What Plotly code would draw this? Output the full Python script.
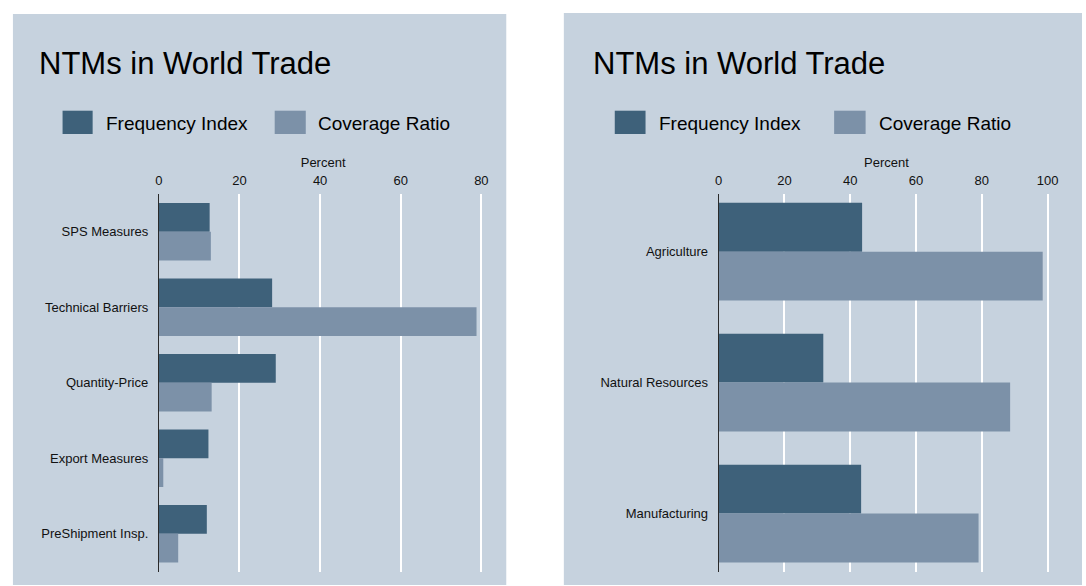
import plotly.graph_objects as go

W, H = 1086, 586

# ---- data ----
title_text = "NTMs in World Trade"
series_names = ["Frequency Index", "Coverage Ratio"]

left_categories = ["SPS Measures", "Technical Barriers", "Quantity-Price",
                   "Export Measures", "PreShipment Insp."]
left_frequency = [12.6, 28.1, 29.0, 12.3, 11.9]
left_coverage = [12.9, 78.8, 13.1, 1.1, 4.8]

right_categories = ["Agriculture", "Natural Resources", "Manufacturing"]
right_frequency = [43.6, 31.8, 43.3]
right_coverage = [98.5, 88.6, 79.0]

left_ticks = [0, 20, 40, 60, 80]
right_ticks = [0, 20, 40, 60, 80, 100]

# ---- style ----
BG = "#c6d2de"
DARK = "#3e617a"
LIGHT = "#7c91a8"
FONT = "Liberation Sans, Arial, sans-serif"


def px(x):
    return x / W


def py(y):
    return 1 - y / H


fig = go.Figure()

lw = 0.38
fig.add_trace(go.Bar(y=list(range(len(left_categories))), x=left_frequency, orientation="h",
                     marker=dict(color=DARK, line=dict(width=0)), width=lw, offset=-lw,
                     name=series_names[0], xaxis="x", yaxis="y", showlegend=False))
fig.add_trace(go.Bar(y=list(range(len(left_categories))), x=left_coverage, orientation="h",
                     marker=dict(color=LIGHT, line=dict(width=0)), width=lw, offset=0,
                     name=series_names[1], xaxis="x", yaxis="y", showlegend=False))

rw = 0.3725
fig.add_trace(go.Bar(y=list(range(len(right_categories))), x=right_frequency, orientation="h",
                     marker=dict(color=DARK, line=dict(width=0)), width=rw, offset=-rw,
                     name=series_names[0], xaxis="x2", yaxis="y2", showlegend=False))
fig.add_trace(go.Bar(y=list(range(len(right_categories))), x=right_coverage, orientation="h",
                     marker=dict(color=LIGHT, line=dict(width=0)), width=rw, offset=0,
                     name=series_names[1], xaxis="x2", yaxis="y2", showlegend=False))

ydom = [py(571.5), py(194)]

xaxis_common = dict(side="top", showgrid=True, gridcolor="white", gridwidth=1.5,
                    zeroline=False, showline=False, ticks="outside", tickcolor=BG,
                    ticklen=3, tickfont=dict(size=13, color="#111", family=FONT),
                    title=dict(text="Percent", font=dict(size=13, color="#111", family=FONT),
                               standoff=2), fixedrange=True)
yaxis_common = dict(showgrid=False, zeroline=False, showline=True, linecolor="#2a2a2a",
                    linewidth=1, ticks="", tickfont=dict(size=13, color="#111", family=FONT),
                    ticklabelstandoff=7, fixedrange=True)

fig.update_layout(
    width=W, height=H, margin=dict(l=0, r=0, t=0, b=0),
    paper_bgcolor="white", plot_bgcolor="rgba(0,0,0,0)",
    barmode="overlay", showlegend=False,
    font=dict(family=FONT),
    xaxis=dict(domain=[px(156), px(487)], range=[0, 81.5], tickvals=left_ticks,
               anchor="y", **xaxis_common),
    yaxis=dict(domain=ydom, range=[len(left_categories) - 0.5, -0.5],
               tickvals=list(range(len(left_categories))), ticktext=left_categories,
               anchor="x", **yaxis_common),
    xaxis2=dict(domain=[px(720), px(1058)], range=[0, 102], tickvals=right_ticks,
                anchor="y2", **xaxis_common),
    yaxis2=dict(domain=ydom, range=[2.442, -0.44],
                tickvals=list(range(len(right_categories))), ticktext=right_categories,
                anchor="x2", **yaxis_common),
)

shapes = []
shapes.append(dict(type="rect", xref="paper", yref="paper", x0=px(9), x1=px(506),
                   y0=py(585), y1=py(14), fillcolor=BG, line=dict(width=0), layer="below"))
shapes.append(dict(type="rect", xref="paper", yref="paper", x0=px(564), x1=px(1086),
                   y0=py(585), y1=py(13), fillcolor=BG, line=dict(width=0), layer="below"))

annotations = []
panels = [
    dict(title_x=33, keys=[(59, 89.3, 100.5), (272.7, 304, 314.5)]),
    dict(title_x=591, keys=[(615.3, 646.3, 658), (836.3, 868, 879)]),
]
for p in panels:
    annotations.append(dict(text=title_text, xref="paper", yref="paper", x=px(p["title_x"]),
                            y=py(63), xanchor="left", yanchor="middle", showarrow=False,
                            font=dict(size=31, color="#000", family=FONT)))
    for (k0, k1, tx), name, col in zip(p["keys"], series_names, [DARK, LIGHT]):
        shapes.append(dict(type="rect", xref="paper", yref="paper", x0=px(k0), x1=px(k1),
                           y0=py(134), y1=py(110.7), fillcolor=col, line=dict(width=0)))
        annotations.append(dict(text=name, xref="paper", yref="paper", x=px(tx), y=py(123),
                                xanchor="left", yanchor="middle", showarrow=False,
                                font=dict(size=19, color="#000", family=FONT)))

fig.update_layout(shapes=shapes, annotations=annotations)

fig.write_html("out.html", config={"displayModeBar": False},
               post_script="document.body.style.margin='0';document.body.style.overflow='hidden';")
